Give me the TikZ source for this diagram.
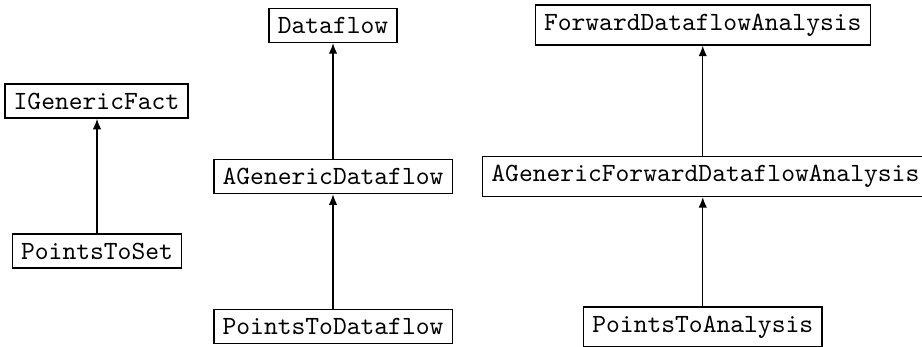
\documentclass[tikz,border=0pt]{standalone}
\usepackage{tikz}
\usetikzlibrary{arrows.meta}
\tikzset{classbox/.style={draw,line width=0.5pt,font=\ttfamily,inner sep=3.33pt}}
\tikzset{inherits/.style={-{Latex[length=4pt,width=3.2pt]},line width=0.5pt}}

\begin{document}
\begin{tikzpicture}[x=1cm,y=1cm]
    \useasboundingbox (0,0) rectangle (12.326,4.626);
    \node[classbox] (igenfact) at (1.29,3.275) {IGenericFact};
    \node[classbox] (ptset) at (1.297,1.27) {PointsToSet};
    \node[classbox] (dataflow) at (4.452,4.285) {Dataflow};
    \node[classbox] (agendf) at (4.452,2.266) {AGenericDataflow};
    \node[classbox] (ptdf) at (4.452,0.261) {PointsToDataflow};
    \node[classbox] (fwdana) at (9.395,4.291) {ForwardDataflowAnalysis};
    \node[classbox] (agenfwd) at (9.43,2.266) {AGenericForwardDataflowAnalysis};
    \node[classbox] (ptana) at (9.395,0.254) {PointsToAnalysis};
    \draw[inherits] (ptset.north) -- (ptset.north |- igenfact.south);
    \draw[inherits] (agendf.north) -- (agendf.north |- dataflow.south);
    \draw[inherits] (ptdf.north) -- (ptdf.north |- agendf.south);
    \draw[inherits] (agenfwd.north -| fwdana.south) -- (fwdana.south);
    \draw[inherits] (ptana.north) -- (ptana.north |- agenfwd.south);
  \end{tikzpicture}
\end{document}
